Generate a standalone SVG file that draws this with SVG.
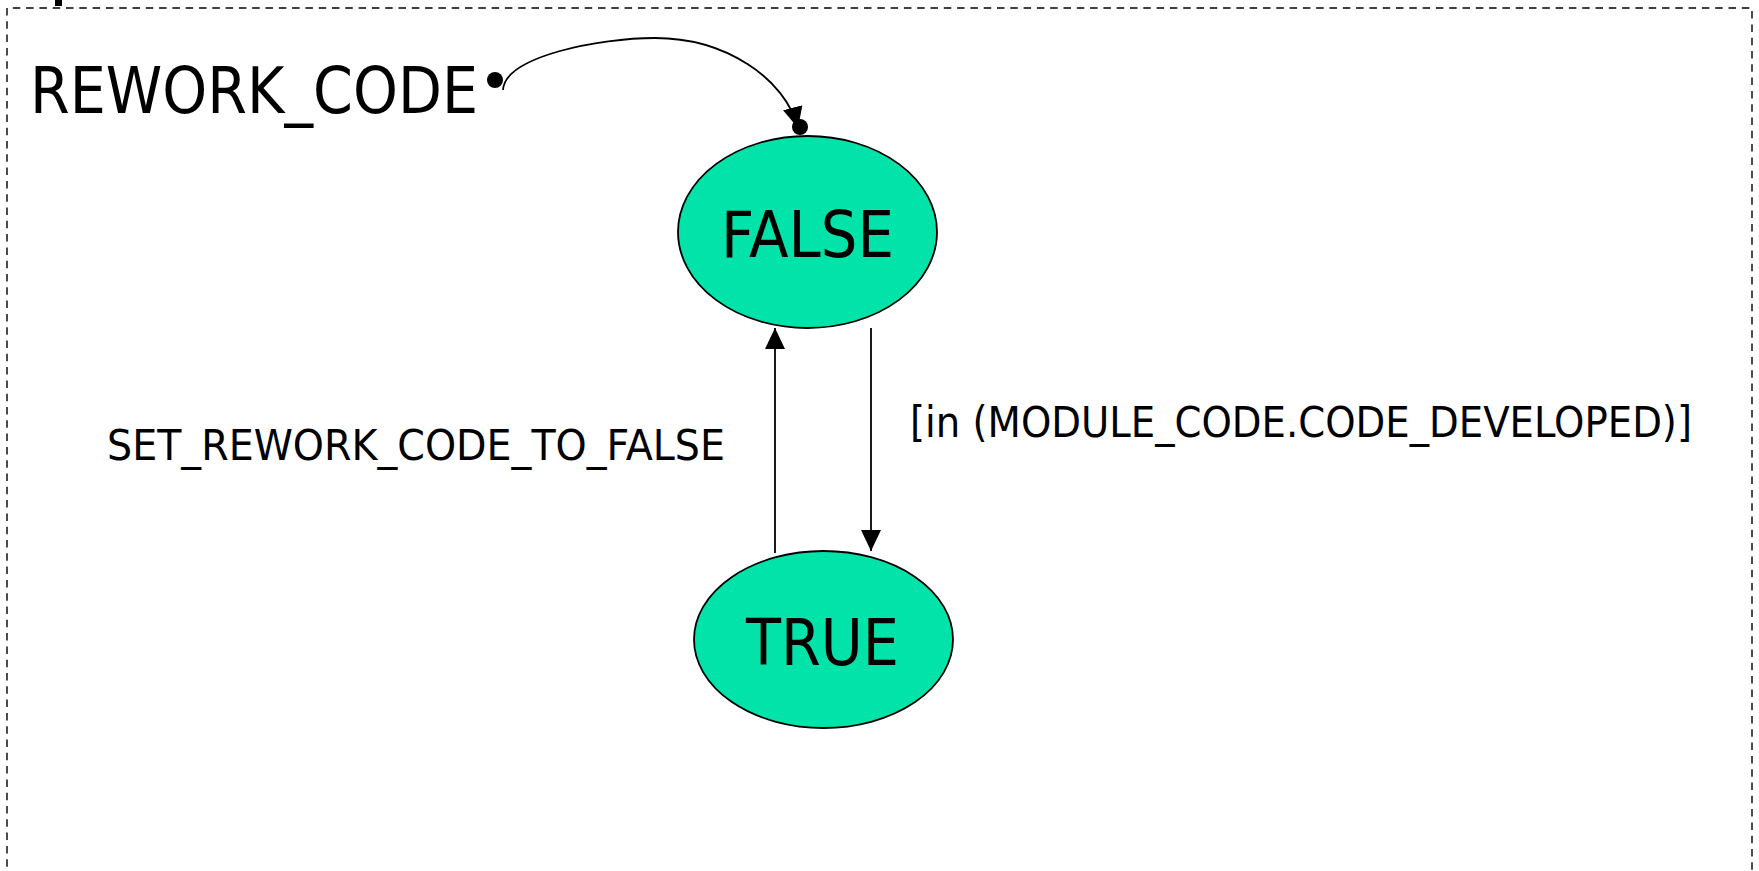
<svg xmlns="http://www.w3.org/2000/svg" width="1759" height="871" viewBox="0 0 1759 871">
<defs>
<style>
.frame{fill:none;stroke:#000;stroke-width:1.4;stroke-dasharray:7.5 5.8}
.state{fill:#02E3A9;stroke:#000;stroke-width:1.8}
.t{font-family:"DejaVu Sans","Liberation Sans",sans-serif;fill:#000}
.big{font-size:64px}
.lbl{font-size:42px}
.edge{fill:none;stroke:#000;stroke-width:1.8}
</style>
<marker id="ah" viewBox="0 0 21 20" refX="21" refY="10" markerWidth="21" markerHeight="20" markerUnits="userSpaceOnUse" orient="auto">
<path d="M0 0 L21 10 L0 20 Z" fill="#000"/>
</marker>
</defs>
<rect width="1759" height="871" fill="#fff"/>
<path class="frame" d="M7 880 V8 H1752 V880"/>
<rect x="55" y="0" width="7" height="6" fill="#000"/>
<g id="initial">
<text class="t big" x="30" y="113" textLength="448" lengthAdjust="spacingAndGlyphs">REWORK_CODE</text>
<circle cx="495" cy="80" r="8" fill="#000"/>
</g>
<g id="state-false">
<ellipse class="state" cx="807.5" cy="232" rx="129.5" ry="96"/>
<text class="t big" x="721" y="257" textLength="173" lengthAdjust="spacingAndGlyphs">FALSE</text>
</g>
<g id="state-true">
<ellipse class="state" cx="823.5" cy="639.5" rx="129.5" ry="88.5"/>
<text class="t big" x="746" y="665" textLength="153" lengthAdjust="spacingAndGlyphs">TRUE</text>
</g>
<g id="connectors">
<path class="edge" d="M503 90 C505 56 600 38 655 38 C725 38 785 78 798 128" marker-end="url(#ah)"/>
<circle cx="800" cy="127" r="8" fill="#000"/>
<line class="edge" x1="775" y1="553" x2="775" y2="328" marker-end="url(#ah)"/>
<line class="edge" x1="871" y1="328" x2="871" y2="551" marker-end="url(#ah)"/>
<text class="t lbl" x="107" y="460" textLength="618" lengthAdjust="spacingAndGlyphs">SET_REWORK_CODE_TO_FALSE</text>
<text class="t lbl" x="910" y="437" textLength="782" lengthAdjust="spacingAndGlyphs">[in (MODULE_CODE.CODE_DEVELOPED)]</text>
</g>
</svg>
